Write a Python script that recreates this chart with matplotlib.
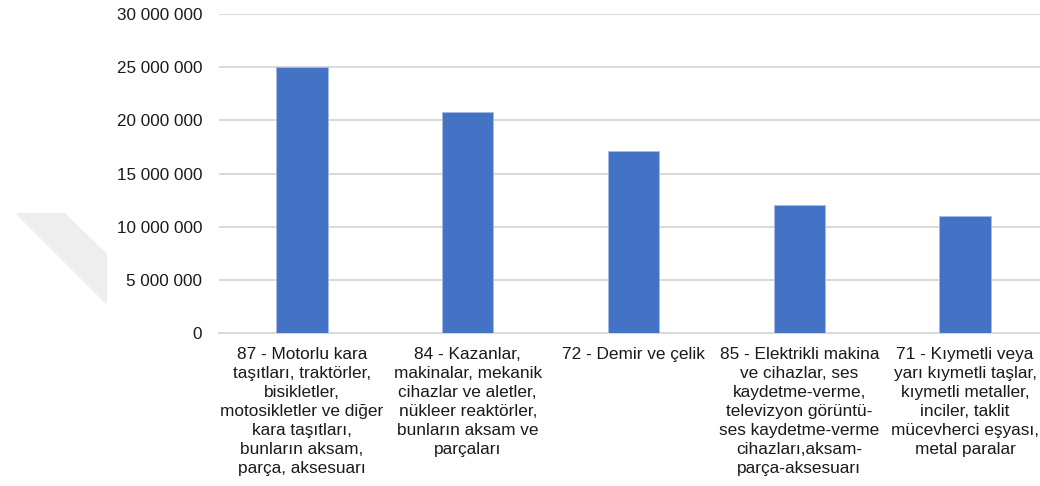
import matplotlib.pyplot as plt
from matplotlib.patches import Polygon
from matplotlib.ticker import FuncFormatter

plt.rcParams['font.family'] = ['Liberation Sans', 'DejaVu Sans']

categories = [
    '87 - Motorlu kara\ntaşıtları, traktörler,\nbisikletler,\nmotosikletler ve diğer\nkara taşıtları,\nbunların aksam,\nparça, aksesuarı',
    '84 - Kazanlar,\nmakinalar, mekanik\ncihazlar ve aletler,\nnükleer reaktörler,\nbunların aksam ve\nparçaları',
    '72 - Demir ve çelik',
    '85 - Elektrikli makina\nve cihazlar, ses\nkaydetme-verme,\ntelevizyon görüntü-\nses kaydetme-verme\ncihazları,aksam-\nparça-aksesuarı',
    '71 - Kıymetli veya\nyarı kıymetli taşlar,\nkıymetli metaller,\ninciler, taklit\nmücevherci eşyası,\nmetal paralar',
]
values = [25020000, 20780000, 17080000, 12040000, 10980000]
yticks = [0, 5000000, 10000000, 15000000, 20000000, 25000000, 30000000]


def main():
    fig = plt.figure(figsize=(10.4, 4.86), dpi=100)

    # faint watermark shape on the left
    wm = Polygon([(15 / 1040, 1 - 213 / 486), (65 / 1040, 1 - 213 / 486),
                  (107 / 1040, 1 - 254 / 486), (107 / 1040, 1 - 305 / 486)],
                 closed=True, transform=fig.transFigure,
                 facecolor='#eeeeee', edgecolor='none', zorder=0)
    fig.patches.append(wm)

    ax = fig.add_axes([219 / 1040, 153 / 486, 829 / 1040, 319 / 486])
    ax.patch.set_alpha(0)
    x = range(len(values))
    ax.bar(x, values, width=0.31, color='#4472c4',
           edgecolor='#a8bbe4', linewidth=0.6, zorder=3)

    ax.set_xlim(-0.5, len(values) - 0.5)
    ax.set_ylim(0, 30000000)
    ax.set_yticks(yticks)
    ax.yaxis.set_major_formatter(
        FuncFormatter(lambda v, p: f'{int(v):,}'.replace(',', ' ')))
    ax.set_xticks(list(x))
    ax.set_xticklabels(categories, fontsize=12.4, linespacing=1.33,
                       color='#1a1a1a', va='top')
    ax.tick_params(axis='y', length=0, pad=12, labelsize=12.3,
                   labelcolor='#1a1a1a')
    ax.tick_params(axis='x', length=0, pad=10)

    ax.grid(axis='y', color='#d9d9d9', linewidth=1.4, zorder=0)
    for s in ['top', 'right', 'left']:
        ax.spines[s].set_visible(False)
    ax.spines['bottom'].set_color('#d9d9d9')
    ax.spines['bottom'].set_linewidth(1.4)

    fig.savefig('out.png', dpi=100)


if __name__ == '__main__':
    main()
